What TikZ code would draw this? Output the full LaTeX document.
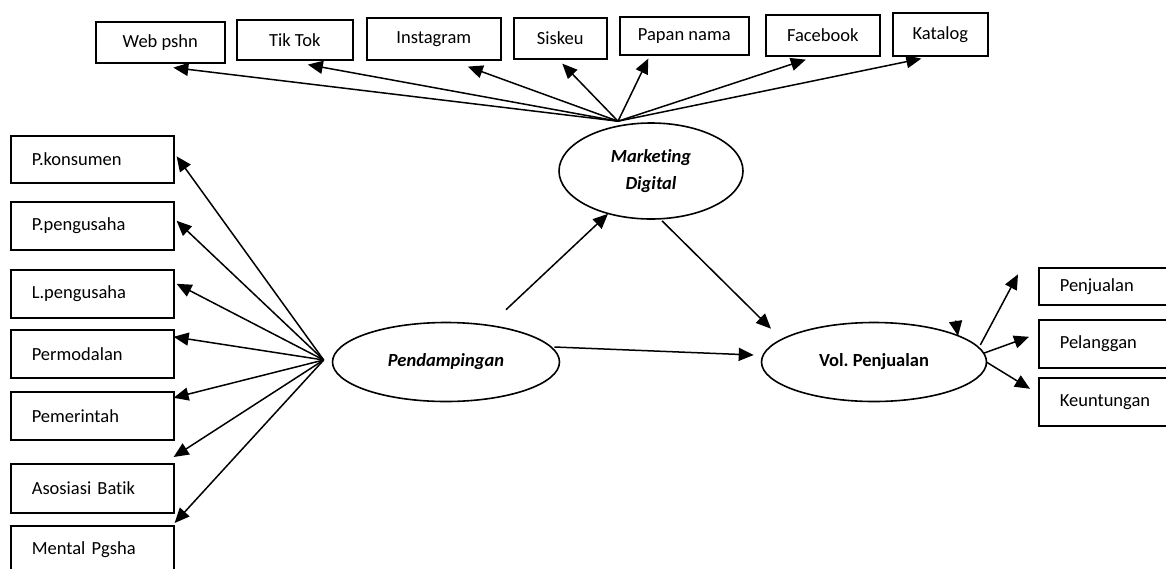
\documentclass[tikz,border=0pt]{standalone}
\usepackage{fontspec}
\setmainfont{Carlito}[Ligatures=NoCommon]
\frenchspacing
\usetikzlibrary{arrows.meta,shapes.geometric,calc}
\begin{document}
\begin{tikzpicture}[x=1pt,y=-1pt,
  font=\fontsize{18.5}{22}\selectfont,
  box/.style={draw,line width=1.6pt,rectangle,inner sep=0pt,anchor=north west},
  topbox/.style={box,align=center},
  sidebox/.style={box,align=left,inner xsep=21pt,text width=#1},
  oval/.style={draw,ellipse,line width=1.6pt,inner sep=0pt,align=center},
  arr/.style={line width=1.5pt,-{Triangle[length=15pt,width=13pt]}},
]
\useasboundingbox (0,0) rectangle (1166,568);
\clip (0,0) rectangle (1166,568);

% top boxes
\node[topbox,minimum width=129pt,minimum height=41pt] (web) at (95,21) {\raisebox{-4pt}{Web pshn}};
\node[topbox,minimum width=116pt,minimum height=40pt] (tik) at (236,19) {Tik Tok};
\node[topbox,minimum width=134pt,minimum height=42pt] (ins) at (366,17) {Instagram};
\node[topbox,minimum width=93pt,minimum height=41pt] (sis) at (513,17) {\raisebox{-1pt}{Siskeu}};
\node[topbox,minimum width=129pt,minimum height=38pt] (pap) at (619,16) {\raisebox{-2pt}{Papan nama}};
\node[topbox,minimum width=114pt,minimum height=41pt] (fb) at (765,14) {Facebook};
\node[topbox,minimum width=95pt,minimum height=43pt] (kat) at (892,12) {Katalog};

% left boxes
\node[sidebox=121pt,minimum height=47pt] (pk) at (10,135) {P.konsumen};
\node[sidebox=121pt,minimum height=48pt] (pp) at (10,201) {P.pengusaha};
\node[sidebox=121pt,minimum height=48pt] (lp) at (10,269) {L.pengusaha};
\node[sidebox=121pt,minimum height=48pt] (pm) at (10,329) {Permodalan};
\node[sidebox=121pt,minimum height=48pt] (pe) at (10,391) {Pemerintah};
\node[sidebox=121pt,minimum height=49pt] (ab) at (10,463) {Asosiasi Batik};
\node[sidebox=121pt,minimum height=48pt] (mp) at (10,525) {Mental Pgsha};

% right boxes
\node[sidebox=86pt,minimum height=37pt] (pj) at (1038,267) {\raisebox{-3pt}{Penjualan}};
\node[sidebox=86pt,minimum height=48pt] (pl) at (1038,319) {Pelanggan};
\node[sidebox=86pt,minimum height=48pt] (ku) at (1038,377) {Keuntungan};

% ellipses
\node[oval,minimum width=184pt,minimum height=96pt,
  font=\fontsize{18.5}{27}\selectfont\bfseries\itshape] (md) at (651,171) {Marketing\\Digital};
\node[oval,minimum width=227pt,minimum height=79pt,
  font=\fontsize{18.5}{22}\selectfont\bfseries\itshape] (pend) at (446,362) {Pendampingan};
\node[oval,minimum width=225pt,minimum height=79pt,
  font=\fontsize{18.5}{22}\selectfont\bfseries] (vol) at (874,362) {Vol. Penjualan};

% hubs
\coordinate (mdhub) at ([shift={(-33,-1)}]md.north);
\coordinate (pendhub) at ([shift={(-8,-2)}]pend.west);

% top arrows
\draw[arr] (mdhub) -- ([shift={(13,4)}]web.south);
\draw[arr] (mdhub) -- ([shift={(13,4)}]tik.south);
\draw[arr] (mdhub) -- ([shift={(34,6)}]ins.south);
\draw[arr] (mdhub) -- ([shift={(2,4)}]sis.south);
\draw[arr] (mdhub) -- ([shift={(-36,3)}]pap.south);
\draw[arr] (mdhub) -- ([shift={(-17,3)}]fb.south);
\draw[arr] (mdhub) -- ([shift={(-19,2)}]kat.south);

% left arrows
\draw[arr] (pendhub) -- ([shift={(2,-3)}]pk.east);
\draw[arr] (pendhub) -- ([shift={(2,-5)}]pp.east);
\draw[arr] (pendhub) -- ([shift={(2,-10)}]lp.east);
\draw[arr] (pendhub) -- ([shift={(-1,-17)}]pm.east);
\draw[arr] (pendhub) -- ([shift={(-1,-18)}]pe.east);
\draw[arr] (pendhub) -- ([shift={(-1,-6)}]ab.north east);
\draw[arr] (pendhub) -- ([shift={(0,-2)}]mp.north east);

% central arrows
\draw[arr] ([shift={(60,-12)}]pend.north) -- ([shift={(-43,-6)}]md.south);
\draw[arr] ([shift={(11,1)}]md.south) -- ([shift={(-103,7)}]vol.north);
\draw[arr] ([shift={(-6,-15)}]pend.east) -- ([shift={(-7,-7)}]vol.west);

% right arrows
\draw[arr] ([shift={(-7,-17)}]vol.east) -- ([shift={(-20,-12)}]pj.west);
\draw[arr] ([shift={(-3,-9)}]vol.east) -- ([shift={(-9,-7)}]pl.west);
\draw[arr] ([shift={(-1,0)}]vol.east) -- ([shift={(-8,-13)}]ku.west);
\draw[arr] ([shift={(81.5,-41.5)}]vol.center) -- ([shift={(84,-26)}]vol.center);
\end{tikzpicture}
\end{document}
